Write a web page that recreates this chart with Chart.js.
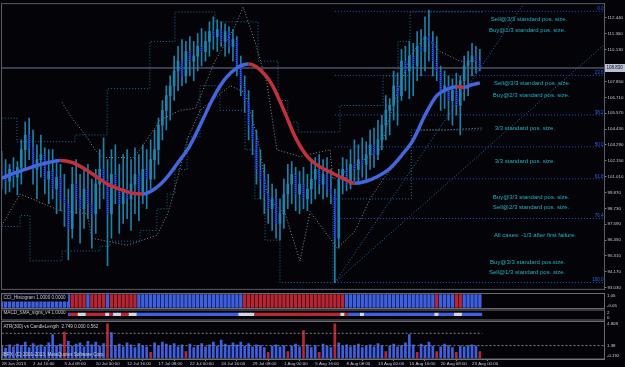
<!DOCTYPE html>
<html><head><meta charset="utf-8">
<script src="https://cdn.jsdelivr.net/npm/chart.js@4.4.1/dist/chart.umd.min.js"></script>
<style>
html,body{margin:0;padding:0;background:#040408;overflow:hidden;}
#wrap{position:relative;width:625px;height:367px;background:#040408;}
canvas{position:absolute;left:0;}
</style></head><body>
<div id="wrap">
<canvas id="main" width="625" height="293" style="top:0px"></canvas>
<canvas id="cci" width="625" height="16" style="top:293px"></canvas>
<canvas id="macd" width="625" height="12" style="top:309px"></canvas>
<canvas id="atr" width="625" height="46" style="top:321px"></canvas>
</div>
<script>
// ---------------- DATA ----------------
const xTickIdx = [0,8,16,24,32,40,48,56,64,72,80,88,96,104,112,120];
const xTickLabels = ['28 Jun 2013','2 Jul 16:00','5 Jul 08:00','10 Jul 00:00','12 Jul 16:00','17 Jul 08:00','22 Jul 00:00','24 Jul 16:00','29 Jul 08:00','1 Aug 00:00','5 Aug 16:00','8 Aug 08:00','13 Aug 00:00','15 Aug 16:00','20 Aug 08:00','23 Aug 00:00'];
const priceTicks = [112.44,111.30,110.13,108.99,107.85,106.71,105.57,104.43,103.29,102.15,101.01,99.87,98.73,97.59,96.45,95.31,94.17,93.03];

const open = [101.53,101.18,100.68,101.53,100.97,101.68,102.95,104.01,103.09,101.53,102.24,
 102.60,100.83,101.39,100.12,100.97,99.41,99.06,97.29,100.47,99.41,
 98.70,100.12,99.06,98.35,100.47,101.53,100.83,98.35,101.18,100.12,
 99.06,100.12,99.41,100.47,101.18,99.76,101.53,100.83,102.24,102.95,
 104.72,105.78,106.84,107.55,108.61,109.32,108.26,110.03,109.32,109.68,
 110.38,110.03,110.74,111.45,111.09,111.59,110.74,111.45,110.38,110.88,
 108.97,107.55,106.49,104.72,103.66,101.53,100.83,99.76,98.70,99.41,
 97.64,98.35,99.76,100.47,101.18,99.76,100.47,99.41,100.12,100.83,
 101.53,100.47,101.18,100.12,99.76,96.58,100.83,101.53,100.47,101.89,
 101.53,102.24,101.89,102.60,103.30,102.60,103.66,104.72,105.78,106.14,
 107.55,106.84,109.32,108.61,109.68,108.97,110.38,110.03,111.09,110.74,
 109.32,108.61,107.20,107.55,106.49,107.20,106.14,107.91,108.97,109.32,
 109.68,109.32];
const high = [102.81,102.24,101.89,102.38,102.10,103.66,104.93,105.22,104.37,103.30,
 104.01,103.09,102.95,102.95,102.24,101.89,101.18,100.12,101.68,102.24,
 101.18,101.53,101.89,100.83,101.53,102.95,103.80,102.24,102.95,103.30,
 101.89,102.60,102.95,102.24,103.09,102.60,103.30,102.95,103.66,104.37,
 105.22,106.49,107.55,108.26,109.68,110.38,110.88,110.74,111.09,110.74,
 111.30,111.66,111.45,112.15,112.51,112.30,112.15,112.01,111.80,111.59,
 111.09,109.68,108.26,107.20,105.78,104.37,102.95,101.89,101.18,100.47,
 100.12,99.41,100.83,101.89,102.10,101.68,101.39,101.68,101.18,102.24,
 102.38,102.60,102.24,102.38,101.53,100.12,101.53,102.38,102.24,102.95,
 103.66,103.30,103.80,103.52,104.37,104.51,105.07,105.43,106.84,106.63,
 108.61,108.47,110.17,110.38,110.74,110.60,111.45,111.59,112.51,113.00,
 111.45,111.09,108.97,108.61,108.26,108.05,108.47,108.26,109.68,110.03,
 110.60,110.38,110.17];
const low = [100.12,99.76,99.91,100.26,99.69,100.47,101.53,102.24,100.47,99.41,
 100.97,99.76,99.06,99.41,98.35,98.56,97.43,95.02,96.58,98.35,
 96.22,97.29,97.99,95.87,96.93,98.70,99.41,94.60,96.58,99.06,
 96.93,97.64,97.99,97.14,98.35,97.85,99.06,98.70,100.12,100.83,
 101.89,103.66,104.37,105.07,106.49,107.20,107.55,107.76,108.26,107.91,
 108.61,108.97,109.32,109.68,110.17,110.03,110.38,109.68,109.89,109.32,
 108.26,106.84,105.64,103.66,102.60,100.47,99.41,98.35,97.64,97.14,
 96.58,96.44,97.29,98.70,99.06,98.56,98.35,98.70,98.56,99.06,
 99.41,99.76,99.41,99.55,99.06,93.39,95.87,99.76,99.98,100.12,
 100.68,100.47,100.97,100.83,101.53,101.68,102.24,102.95,103.66,104.01,
 105.07,104.72,106.49,107.20,106.63,106.84,107.91,108.26,108.61,109.32,
 108.26,107.91,105.78,105.92,105.07,104.72,105.43,104.01,106.49,106.84,
 108.26,108.47,108.61];
const close = [101.18,100.68,101.53,100.97,101.68,102.95,104.01,103.09,101.53,102.24,
 102.60,100.83,101.39,100.12,100.97,99.41,99.06,97.29,100.47,99.41,
 98.70,100.12,99.06,98.35,100.47,101.53,100.83,98.35,101.18,100.12,
 99.06,100.12,99.41,100.47,101.18,99.76,101.53,100.83,102.24,102.95,
 104.72,105.78,106.84,107.55,108.61,109.32,108.26,110.03,109.32,109.68,
 110.38,110.03,110.74,111.45,111.09,111.59,110.74,111.45,110.38,110.88,
 108.97,107.55,106.49,104.72,103.66,101.53,100.83,99.76,98.70,99.41,
 97.64,98.35,99.76,100.47,101.18,99.76,100.47,99.41,100.12,100.83,
 101.53,100.47,101.18,100.12,99.76,96.58,100.83,101.53,100.47,101.89,
 101.53,102.24,101.89,102.60,103.30,102.60,103.66,104.72,105.78,106.14,
 107.55,106.84,109.32,108.61,109.68,108.97,110.38,110.03,111.09,110.74,
 109.32,108.61,107.20,107.55,106.49,107.20,106.14,107.91,108.97,109.32,
 109.68,109.32,108.83];

const maIdx = [0,3,6,9,12,15,18,21,24,27,30,33,36,39,42,45,48,51,54,57,60,63,66,69,72,75,78,81,84,87,90,93,96,99,102,105,108,111,114,116,118,120,122];
const maVal = [100.90,101.25,101.53,101.82,102.03,102.17,102.03,101.60,101.04,100.47,100.12,99.84,99.76,100.12,100.90,102.03,103.23,104.93,106.70,108.05,108.83,109.11,108.68,107.62,105.78,103.80,102.45,101.75,101.32,100.90,100.54,100.68,101.04,101.60,102.53,103.66,105.43,106.84,107.34,107.48,107.45,107.62,107.76];

const cyanUpI = [0,3.9,18.7,26.9,37.8,44.2,54.4,65.4,70.5,73,75.6,86.3,97.3,101.1,104.2,108,122.6];
const cyanUpP = [104.15,105.22,103.52,104.01,107.34,110.74,112.86,112.15,109.32,106.49,104.93,104.22,106.13,108.26,110.74,112.86,112.86];
const cyanLoI = [0,4.7,7.2,15.4,25.1,27.6,35.3,39.6,42.2,44.2,47.3,50.6,55.7,62.1,64.6,67.2,71,84.5,104.5,111,122.6];
const cyanLoP = [96.79,97.43,98.21,94.95,95.66,96.01,96.37,97.14,98.70,99.76,101.53,103.87,107.55,105.78,102.95,99.41,96.44,93.39,99.41,104.37,104.37];
const grayUpI = [15.4,17.4,21.3,23.8,25.8,33.5,35.3,40.4,45.5,49.4,54.4,59.5,61.6,64.6,67.7,70.2,76.1,83.8,84.5,96.5,100.3,104.2,108,111.8,116.9,122.6];
const grayUpP = [106.35,105.43,104.01,102.95,102.38,102.38,102.95,105.07,105.78,105.92,109.32,111.80,113.22,110.74,107.69,102.95,102.45,102.95,100.83,102.95,106.49,109.68,111.09,110.03,109.32,109.32];
const grayLoI = [0,4.7,14.9,21.8,23,32,39.6,42.4,44.8,47.3,50.6,58.3,62.1,65.4,68,72.3,76.1,78.7,85.6,90.1,94,97.3,101.6,106.7,113.1,122.6];
const grayLoP = [97.50,99.76,98.56,98.35,96.58,96.08,96.79,98.35,100.83,103.66,105.78,107.55,107.06,103.66,99.41,98.35,94.95,98.49,95.87,97.07,99.41,100.83,102.24,104.37,104.37,104.51];

const fibStartI = 85;
const fibLevels = [0.0,23.6,38.2,50.0,61.8,76.4,100.0];
const fibPrices = [112.91,108.30,105.45,103.15,100.85,98.00,93.39];
const fanFromI = 85, fanFromP = 93.39;
const fanToI = [133.5,153.8];
const fanToP = [113.57,110.53];

const annText = ['Sell@3/3 standard pos. size.','Buy@1/3 standard pos. size.','Sell@3/3 standard pos. size.','Buy@2/3 standard pos. size.','3/3 standard pos. size.','3/3 standard pos. size.','Buy@3/3 standard pos. size.','Sell@2/3 standard pos. size.','All cases: -1/3 after first failure.','Buy@3/3 standard pos.size.','Sell@1/3 standard pos. size.'];
const annI = [124.8,124.3,125.6,125.3,125.8,125.8,125.3,125.3,125.6,124.6,124.3];
const annP = [112.36,111.51,107.69,106.84,104.51,102.10,99.55,98.78,96.79,94.81,94.10];

const cciState = [1,1,1,1,1,1,1,1,1,1,1,1,1,1,1,1,1,1,
 -1,-1,-1,-1, 1, -1,-1,-1,-1, 1, -1, -1,-1,-1,-1,-1,-1,
 1,1,1,1,1,1,1,1,1,1,1,1,1,1,1,1,1,1,1,1,1,1,1,1,1,1,1,
 -1,-1,-1,-1,-1,-1,-1,-1,-1,-1,-1,-1,-1,-1,-1,-1,-1,-1,-1,-1,-1,-1,-1,-1,-1,-1,
 1,1,1,1,1,1,1,1,1,1,1,1,1,1,1,1,1,1,1,1,1,1,1,
 -1, 1,1,1,1, -1,-1, 1,1,1,1,1];
const macdState = [1,1,1,1,1,1,1,1,1,1,1,1,1,1,1,1,1,1,
 -1,-1, 0,0, -1,-1,-1,-1,-1, 0, -1, 0,0, -1,-1, 0,0,
 1,1,1,1,1,1,1,1,1,1,1,1,1,1,1,1,1,1,1,1,1,1,1,1,1,1,
 0,0,0,0,
 -1,-1,-1,-1,-1,-1,-1,-1,-1,-1,-1,-1,-1,-1,-1,-1,-1,-1,-1,-1,-1,-1,
 0, -1, 1,1,1, 0,
 1,1,1,1,1,1,1,1,1,1,1,1,1,1,1,1,1,1,
 0, 1,1,1,1, 0,0, 1,1,1,1,1];
const atrVal = [1.3,1.0,1.5,1.2,1.6,1.4,1.9,1.1,1.7,1.3,
 1.5,1.2,1.8,3.0,1.4,1.6,3.4,2.0,1.3,1.6,
 1.8,1.2,2.0,1.5,1.9,1.3,1.7,4.6,3.3,1.4,
 1.6,1.2,1.8,1.5,1.1,1.7,1.4,1.2,0.4,1.8,
 1.3,1.9,1.6,1.4,1.7,1.2,1.5,0.5,1.6,1.1,
 1.4,1.7,1.2,1.5,1.9,1.3,2.2,1.6,1.4,1.8,
 1.5,1.9,1.3,1.7,1.2,1.5,1.4,1.1,0.4,1.3,
 1.5,1.2,1.4,0.5,1.3,1.6,1.2,3.6,1.5,1.1,
 1.4,0.4,1.6,1.3,1.1,4.6,1.8,1.3,1.5,1.2,
 1.4,1.6,1.1,1.3,1.5,1.2,1.7,1.4,0.5,1.3,
 1.6,1.2,1.4,1.8,3.0,1.5,0.4,1.6,1.4,1.9,
 1.3,0.5,1.2,1.6,1.4,1.1,0.4,1.3,1.2,1.4,
 1.5,1.3,0.5];
const atrRedIdx = [16,27,38,47,68,73,77,81,85,98,106,111,116,122];
const atrSignal = 3.2, atrLevel = 1.38;
const atrAxis = [4.808,1.38,-0.192];
const cciAxis = [1.05,-0.05];
const macdAxis = [2,0];

// ---------------- STYLE ----------------
const FONT = '"Liberation Sans", Arial, sans-serif';
const BG = '#040408';
const AX_LINE = '#7a7a80', AX_TXT = '#c8c8cc';
const X_MIN = -0.05, X_MAX = 153.8;
const BULL = '#1d86ad', WICK = '#1f7fa8';
const MA_UP = '#4466dd', MA_DN = '#c2303e';
const BLUE = '#3d5fe0', RED = '#b82634', WHITE = '#d4d6e2';

function pattern(color){
  const c = document.createElement('canvas'); c.width = 2; c.height = 2;
  const g = c.getContext('2d'); g.fillStyle = color; g.fillRect(0,0,1,1); g.fillRect(1,1,1,1);
  return g.createPattern(c,'repeat');
}
const BEAR = pattern('#2222ee');
const idx = close.map((_, i) => i);

const pts = (I, P) => I.map((x, k) => ({x, y: P[k]}));
const dotted = (data, color, stepped) => ({type:'line', data, borderColor:color, borderWidth:1, borderDash:[1,2], pointRadius:0, stepped: stepped ? 'after' : false, order:5});

const rightAxisFixed = s => { s.width = 20.5; };

// ---------------- MAIN ----------------
const mainDeco = {
  id:'mainDeco',
  afterDatasetsDraw(chart){
    const {ctx, chartArea:a, scales:{x, y}} = chart;
    ctx.save();
    ctx.font = '4.5px ' + FONT; ctx.fillStyle = '#2f62e6'; ctx.textAlign = 'right'; ctx.textBaseline = 'bottom';
    fibLevels.forEach((lv, k) => ctx.fillText(lv.toFixed(1), a.right - 1, y.getPixelForValue(fibPrices[k]) - 0.3));
    ctx.font = '6px ' + FONT; ctx.fillStyle = '#1fb2c4'; ctx.textAlign = 'left'; ctx.textBaseline = 'middle';
    annText.forEach((t, k) => ctx.fillText(t, x.getPixelForValue(annI[k]), y.getPixelForValue(annP[k])));
    ctx.restore();
  },
  afterDraw(chart){
    const {ctx, chartArea:a, scales:{y}} = chart;
    ctx.save();
    ctx.strokeStyle = '#5c5c68'; ctx.lineWidth = 1;
    ctx.strokeRect(a.left, a.top, a.width, a.height);
    const last = close[close.length - 1];
    const py = y.getPixelForValue(last);
    ctx.fillStyle = '#b9c0d2'; ctx.fillRect(a.right + 0.5, Math.round(py) - 4, 20, 8);
    ctx.fillStyle = '#101018'; ctx.font = '4.5px ' + FONT; ctx.textAlign = 'left'; ctx.textBaseline = 'middle';
    ctx.fillText(last.toFixed(3), a.right + 2, Math.round(py));
    ctx.restore();
  }
};

new Chart(document.getElementById('main'), {
  type:'bar',
  data:{datasets:[
    {type:'line', data: pts(maIdx, maVal), borderColor: MA_UP, borderWidth:3.5, pointRadius:0,
     cubicInterpolationMode:'monotone',
     segment:{borderColor: c => c.p1.parsed.y < c.p0.parsed.y ? MA_DN : MA_UP}, order:0},
    {data: idx.map(i => ({x:i, y:[open[i], close[i]]})), grouped:false, barThickness:2, borderWidth:0,
     backgroundColor: c => { const i = c.dataIndex; if (i === undefined) return BULL; return close[i] >= open[i] ? BULL : BEAR; }, order:1},
    {data: idx.map(i => ({x:i, y:[low[i], high[i]]})), grouped:false, barThickness:1, borderWidth:0,
     backgroundColor: WICK, order:2},
    {type:'line', data:[{x:X_MIN, y:close[close.length-1]},{x:X_MAX, y:close[close.length-1]}], borderColor:'#6d7a98', borderWidth:1, pointRadius:0, order:3},
    dotted(pts(cyanUpI, cyanUpP), '#1d6f98', true),
    dotted(pts(cyanLoI, cyanLoP), '#1d6f98', true),
    dotted(pts(grayUpI, grayUpP), '#8a8a90', false),
    dotted(pts(grayLoI, grayLoP), '#8a8a90', false),
    ...fibPrices.map(p => dotted([{x:fibStartI, y:p},{x:X_MAX, y:p}], '#2452d0', false)),
    ...fanToI.map((ti, k) => dotted([{x:fanFromI, y:fanFromP},{x:ti, y:fanToP[k]}], '#2a6cb4', false))
  ]},
  options:{
    responsive:false, animation:false, devicePixelRatio:1,
    layout:{padding:{left:1.5, top:1.5, right:0, bottom:1}},
    plugins:{legend:{display:false}, tooltip:{enabled:false}},
    scales:{
      x:{type:'linear', min:X_MIN, max:X_MAX, display:false, offset:false},
      y:{position:'right', min:92.90, max:113.46, afterFit: rightAxisFixed,
         afterBuildTicks: s => { s.ticks = priceTicks.map(v => ({value:v})); },
         ticks:{callback: v => Number(v).toFixed(3), color:AX_TXT, font:{size:4.4, family:FONT}, padding:1, autoSkip:false},
         grid:{drawOnChartArea:false, drawTicks:true, tickLength:2, color:AX_LINE},
         border:{color:AX_LINE}}
    }
  },
  plugins:[mainDeco]
});

// ---------------- SUB PANELS ----------------
function panelDeco(opt){
  return {
    id:'panelDeco',
    afterDraw(chart){
      const {ctx, chartArea:a, scales:{y}} = chart;
      ctx.save();
      ctx.font = '4.6px ' + FONT; ctx.textBaseline = 'middle'; ctx.textAlign = 'left';
      if (opt.title){
        const ty = a.top + opt.titleDy;
        const w = ctx.measureText(opt.title).width;
        if (opt.box){
          ctx.fillStyle = BG;
          if (opt.box === 'full') ctx.fillRect(a.left + 0.5, a.top + 0.5, w + 4, a.height - 1);
          else ctx.fillRect(a.left + 0.5, ty - 3.5, w + 4, 7);
        }
        ctx.fillStyle = '#c8c8cc'; ctx.fillText(opt.title, a.left + 2, ty);
      }
      if (opt.foot){ ctx.fillStyle = '#d0d0d6'; ctx.fillText(opt.foot, a.left + 1, a.bottom - 4.5); }
      ctx.strokeStyle = '#6a6a72'; ctx.lineWidth = 1;
      ctx.strokeRect(a.left, a.top, a.width, a.height);
      ctx.fillStyle = AX_TXT; ctx.font = '4.4px ' + FONT;
      opt.axis.forEach(v => {
        let py = y.getPixelForValue(v);
        py = Math.min(Math.max(py, a.top + 2.6), a.bottom - 2.6);
        ctx.fillText(String(v), a.right + 2.5, py);
      });
      ctx.restore();
    }
  };
}
function subOptions(ymin, ymax, padTop, padBottom, showX){
  return {
    responsive:false, animation:false, devicePixelRatio:1,
    layout:{padding:{left:1.5, top:padTop, right:0, bottom:padBottom}},
    plugins:{legend:{display:false}, tooltip:{enabled:false}},
    scales:{
      x: showX ? {type:'linear', min:X_MIN, max:X_MAX, position:'bottom', offset:false,
          afterBuildTicks: s => { s.ticks = xTickIdx.map(v => ({value:v})); },
          afterFit: s => { s.height = 8; },
          ticks:{callback:(v, k) => xTickLabels[k], align:'start', maxRotation:0, minRotation:0, autoSkip:false,
                 font:{size:4.4, family:FONT}, color:AX_TXT, padding:0},
          grid:{drawOnChartArea:false, drawTicks:true, tickLength:2, color:AX_LINE},
          border:{color:AX_LINE}}
        : {type:'linear', min:X_MIN, max:X_MAX, display:false, offset:false},
      y:{position:'right', min:ymin, max:ymax, afterFit: rightAxisFixed,
         ticks:{display:false}, grid:{drawOnChartArea:false, drawTicks:false}, border:{color:AX_LINE}}
    }
  };
}

// CCI histogram
new Chart(document.getElementById('cci'), {
  type:'bar',
  data:{datasets:[{data: idx.map(i => ({x:i, y:Math.abs(cciState[i])})), barPercentage:0.85, categoryPercentage:1,
    backgroundColor: c => (c.dataIndex !== undefined && cciState[c.dataIndex] < 0) ? RED : BLUE, borderWidth:0}]},
  options: subOptions(-0.05, 1.05, 0.5, 0.5, false),
  plugins:[panelDeco({title:'CCI_Histogram 1.0000 0.0000', titleDy:4.5, box:'label', axis:cciAxis})]
});

// MACD signs
new Chart(document.getElementById('macd'), {
  type:'bar',
  data:{datasets:[{data: idx.map(i => ({x:i, y:[0.85, 1.4]})), barPercentage:1, categoryPercentage:1,
    backgroundColor: c => { const s = macdState[c.dataIndex]; return s > 0 ? BLUE : (s < 0 ? RED : WHITE); }, borderWidth:0}]},
  options: subOptions(0, 2, 1, 1, false),
  plugins:[panelDeco({title:'MACD_SMA_signs_v4 1.0000', titleDy:2.6, box:'full', axis:macdAxis})]
});

// ATR vs candle length
new Chart(document.getElementById('atr'), {
  type:'bar',
  data:{datasets:[
    {data: idx.map(i => ({x:i, y:[-0.45, atrVal[i]]})), barThickness:2, grouped:false, borderWidth:0,
     backgroundColor: c => (c.dataIndex !== undefined && atrRedIdx.includes(c.dataIndex)) ? RED : BLUE, order:2},
    {type:'line', data:[{x:0, y:atrSignal},{x:122.6, y:atrSignal}], borderColor:'#7c7c84', borderWidth:1, borderDash:[2,2], pointRadius:0, order:1},
    {type:'line', data:[{x:X_MIN, y:atrLevel},{x:X_MAX, y:atrLevel}], borderColor:'#7c7c84', borderWidth:1, borderDash:[2,2], pointRadius:0, order:1}
  ]},
  options: subOptions(-0.6, 4.95, 0.5, 0, true),
  plugins:[panelDeco({title:'ATR(300) vs CandleLength  2.749 0.000 0.562', titleDy:5.5, box:false, axis:atrAxis,
    foot:'IBFX, (C) 2001-2013, MetaQuotes Software Corp.'})]
});
</script>
</body></html>
